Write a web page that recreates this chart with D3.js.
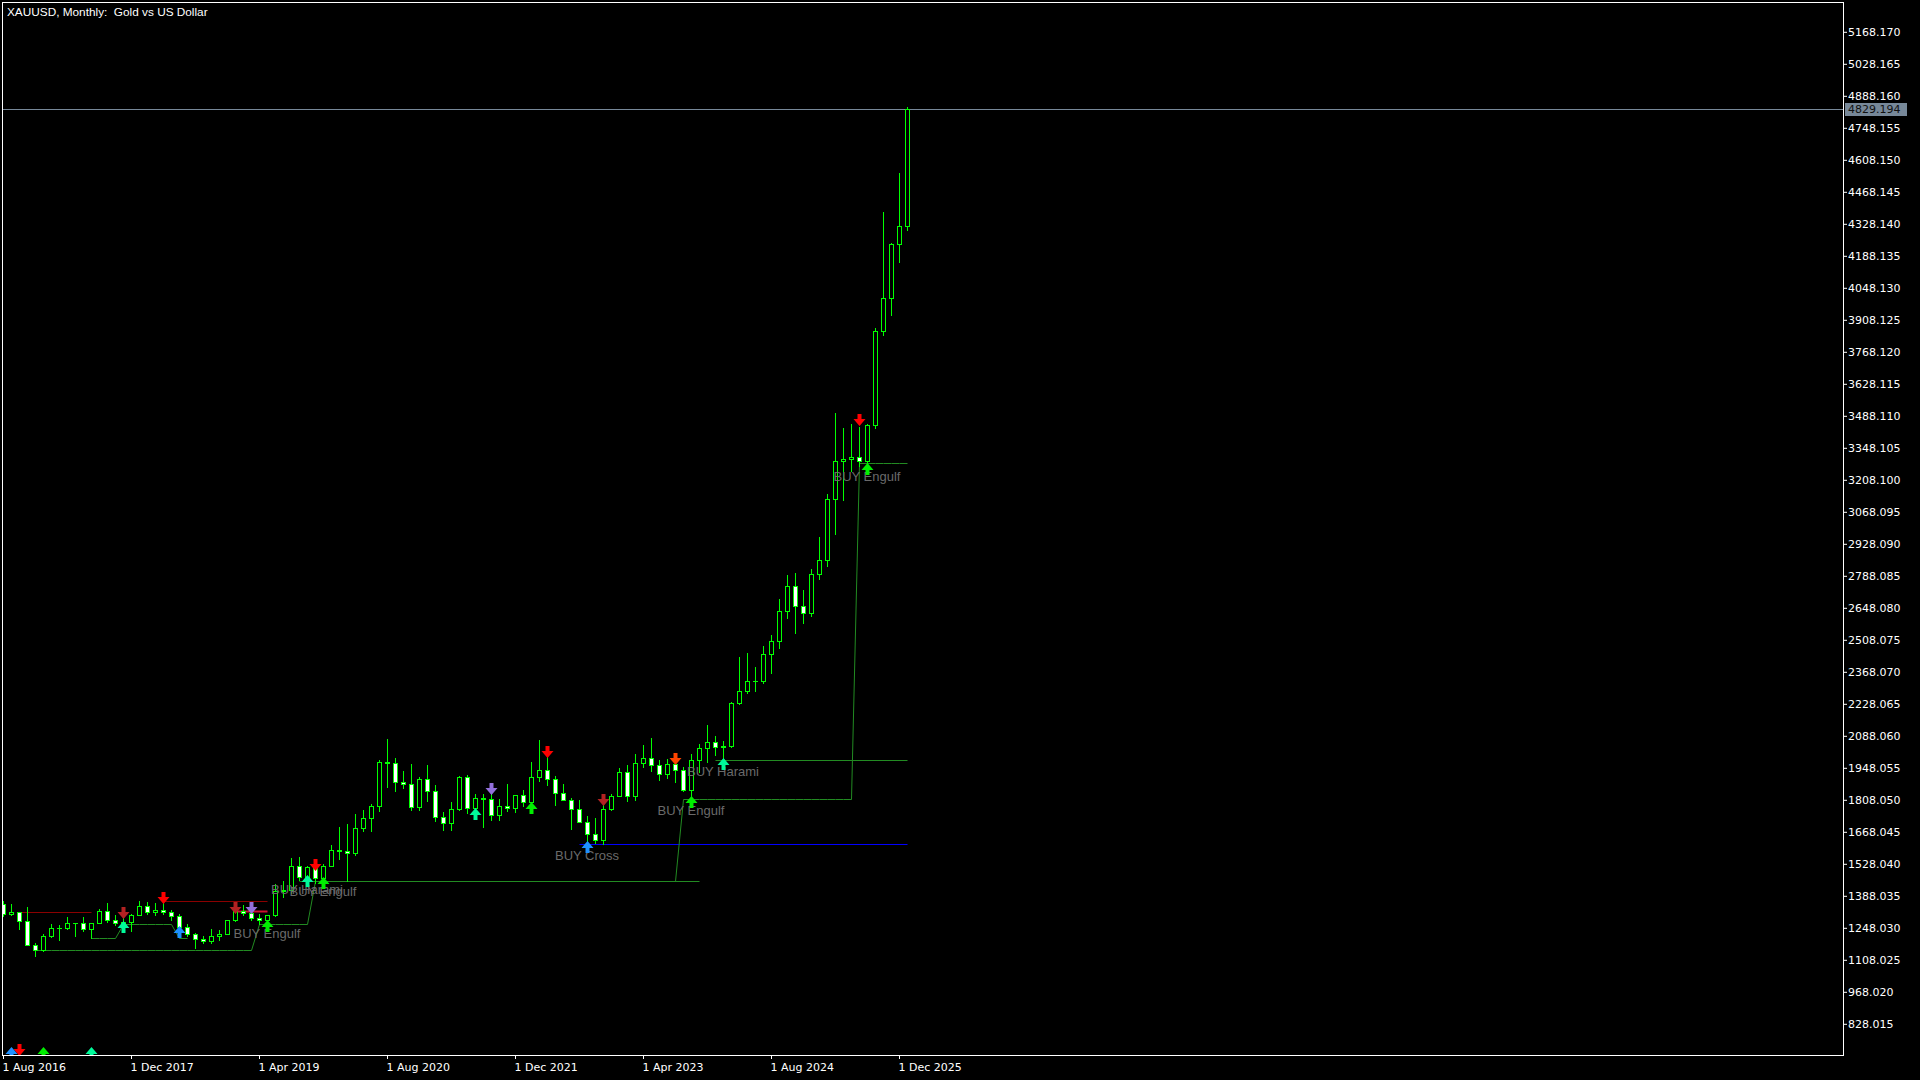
<!DOCTYPE html>
<html>
<head>
<meta charset="utf-8">
<script src="https://cdn.jsdelivr.net/npm/d3@7"></script>
<style>
  html, body { margin: 0; padding: 0; background: #000; }
  svg { display: block; }
  .axis text { font-family: "DejaVu Sans", sans-serif; font-size: 11px; fill: #fff; }
  .axis line { stroke: #fff; }
</style>
</head>
<body>
<div id="chart"></div>
<script>
{ // start block scope

  // monthly candles: [month, open, high, low, close]
  const candles = [
    ["2016-08", 1350.6, 1367.3, 1301.7, 1308.4], ["2016-09", 1308.4, 1352.8, 1302.8, 1315.8],
    ["2016-10", 1315.8, 1317.0, 1241.3, 1277.3], ["2016-11", 1277.3, 1337.4, 1171.3, 1173.4],
    ["2016-12", 1173.4, 1180.2, 1122.9, 1150.0], ["2017-01", 1150.0, 1220.0, 1146.0, 1210.0],
    ["2017-02", 1210.0, 1264.0, 1208.0, 1248.0], ["2017-03", 1248.0, 1261.0, 1194.0, 1249.0],
    ["2017-04", 1249.0, 1295.0, 1242.0, 1268.0], ["2017-05", 1268.0, 1270.0, 1214.0, 1268.5],
    ["2017-06", 1268.5, 1296.0, 1236.0, 1241.0], ["2017-07", 1241.0, 1270.0, 1205.0, 1268.0],
    ["2017-08", 1268.0, 1331.0, 1267.0, 1321.0], ["2017-09", 1321.0, 1357.0, 1275.0, 1280.0],
    ["2017-10", 1280.0, 1306.0, 1260.0, 1271.0], ["2017-11", 1271.0, 1299.0, 1264.0, 1275.0],
    ["2017-12", 1275.0, 1309.0, 1236.0, 1302.0], ["2018-01", 1302.0, 1366.0, 1302.0, 1345.0],
    ["2018-02", 1345.0, 1361.0, 1307.0, 1318.0], ["2018-03", 1318.0, 1356.0, 1303.0, 1325.0],
    ["2018-04", 1325.0, 1366.0, 1310.0, 1315.0], ["2018-05", 1315.0, 1326.0, 1282.0, 1298.0],
    ["2018-06", 1298.0, 1309.0, 1246.0, 1253.0], ["2018-07", 1253.0, 1266.0, 1211.0, 1223.0],
    ["2018-08", 1223.0, 1224.0, 1160.0, 1201.0], ["2018-09", 1201.0, 1214.0, 1180.0, 1192.0],
    ["2018-10", 1192.0, 1243.0, 1183.0, 1214.0], ["2018-11", 1214.0, 1237.0, 1196.0, 1222.0],
    ["2018-12", 1222.0, 1284.0, 1221.0, 1282.0], ["2019-01", 1282.0, 1326.0, 1276.0, 1321.0],
    ["2019-02", 1321.0, 1347.0, 1302.0, 1313.0], ["2019-03", 1313.0, 1324.0, 1281.0, 1292.0],
    ["2019-04", 1292.0, 1310.0, 1266.0, 1284.0], ["2019-05", 1284.0, 1306.0, 1266.0, 1305.0],
    ["2019-06", 1305.0, 1439.0, 1301.0, 1409.0], ["2019-07", 1409.0, 1453.0, 1382.0, 1413.0],
    ["2019-08", 1413.0, 1555.0, 1400.0, 1520.0], ["2019-09", 1520.0, 1557.0, 1459.0, 1472.0],
    ["2019-10", 1472.0, 1518.0, 1459.0, 1513.0], ["2019-11", 1513.0, 1516.0, 1445.0, 1464.0],
    ["2019-12", 1464.0, 1525.0, 1454.0, 1517.0], ["2020-01", 1517.0, 1611.0, 1517.0, 1589.0],
    ["2020-02", 1589.0, 1689.0, 1548.0, 1585.0], ["2020-03", 1585.0, 1704.0, 1451.0, 1577.0],
    ["2020-04", 1577.0, 1747.0, 1567.0, 1686.0], ["2020-05", 1686.0, 1765.0, 1670.0, 1730.0],
    ["2020-06", 1730.0, 1789.0, 1671.0, 1781.0], ["2020-07", 1781.0, 1984.0, 1757.0, 1975.0],
    ["2020-08", 1975.0, 2075.0, 1863.0, 1967.0], ["2020-09", 1967.0, 1992.0, 1848.0, 1886.0],
    ["2020-10", 1886.0, 1933.0, 1859.0, 1879.0], ["2020-11", 1879.0, 1965.0, 1764.0, 1776.0],
    ["2020-12", 1776.0, 1907.0, 1764.0, 1898.0], ["2021-01", 1898.0, 1959.0, 1802.0, 1847.0],
    ["2021-02", 1847.0, 1872.0, 1717.0, 1733.0], ["2021-03", 1733.0, 1755.0, 1676.0, 1707.0],
    ["2021-04", 1707.0, 1797.0, 1677.0, 1769.0], ["2021-05", 1769.0, 1912.0, 1765.0, 1906.0],
    ["2021-06", 1906.0, 1916.0, 1750.0, 1770.0], ["2021-07", 1770.0, 1832.0, 1751.0, 1814.0],
    ["2021-08", 1814.0, 1834.0, 1687.0, 1813.0], ["2021-09", 1813.0, 1834.0, 1721.0, 1743.0],
    ["2021-10", 1743.0, 1813.0, 1721.0, 1783.0], ["2021-11", 1783.0, 1877.0, 1758.0, 1774.0],
    ["2021-12", 1774.0, 1831.0, 1753.0, 1829.0], ["2022-01", 1829.0, 1853.0, 1780.0, 1797.0],
    ["2022-02", 1797.0, 1974.0, 1780.0, 1909.0], ["2022-03", 1909.0, 2070.0, 1890.0, 1937.0],
    ["2022-04", 1937.0, 1998.0, 1872.0, 1897.0], ["2022-05", 1897.0, 1910.0, 1787.0, 1837.0],
    ["2022-06", 1837.0, 1879.0, 1805.0, 1807.0], ["2022-07", 1807.0, 1814.0, 1681.0, 1766.0],
    ["2022-08", 1766.0, 1808.0, 1709.0, 1711.0], ["2022-09", 1711.0, 1735.0, 1615.0, 1660.0],
    ["2022-10", 1660.0, 1730.0, 1617.0, 1633.0], ["2022-11", 1633.0, 1786.0, 1616.0, 1768.0],
    ["2022-12", 1768.0, 1833.0, 1765.0, 1824.0], ["2023-01", 1824.0, 1949.0, 1823.0, 1928.0],
    ["2023-02", 1928.0, 1959.0, 1804.0, 1826.0], ["2023-03", 1826.0, 2009.0, 1809.0, 1969.0],
    ["2023-04", 1969.0, 2048.0, 1950.0, 1990.0], ["2023-05", 1990.0, 2079.0, 1932.0, 1962.0],
    ["2023-06", 1962.0, 1983.0, 1893.0, 1919.0], ["2023-07", 1919.0, 1987.0, 1902.0, 1965.0],
    ["2023-08", 1965.0, 1987.0, 1884.0, 1940.0], ["2023-09", 1940.0, 1953.0, 1848.0, 1849.0],
    ["2023-10", 1849.0, 2009.0, 1810.0, 1983.0], ["2023-11", 1983.0, 2052.0, 1931.0, 2036.0],
    ["2023-12", 2036.0, 2135.0, 1973.0, 2063.0], ["2024-01", 2063.0, 2088.0, 2002.0, 2039.0],
    ["2024-02", 2039.0, 2065.0, 1984.0, 2044.0], ["2024-03", 2044.0, 2236.0, 2039.0, 2230.0],
    ["2024-04", 2230.0, 2431.0, 2228.0, 2286.0], ["2024-05", 2286.0, 2450.0, 2277.0, 2327.0],
    ["2024-06", 2327.0, 2388.0, 2286.0, 2326.0], ["2024-07", 2326.0, 2483.0, 2319.0, 2447.0],
    ["2024-08", 2447.0, 2531.0, 2364.0, 2503.0], ["2024-09", 2503.0, 2685.0, 2472.0, 2634.0],
    ["2024-10", 2634.0, 2790.0, 2604.0, 2744.0], ["2024-11", 2744.0, 2801.0, 2537.0, 2654.0],
    ["2024-12", 2654.0, 2726.0, 2583.0, 2624.0], ["2025-01", 2624.0, 2817.0, 2614.0, 2798.0],
    ["2025-02", 2798.0, 2956.0, 2772.0, 2858.0], ["2025-03", 2858.0, 3148.0, 2833.0, 3124.0],
    ["2025-04", 3124.0, 3500.0, 2970.0, 3289.0], ["2025-05", 3289.0, 3435.0, 3121.0, 3300.0],
    ["2025-06", 3300.0, 3451.0, 3248.0, 3307.0], ["2025-07", 3307.0, 3439.0, 3268.0, 3290.0],
    ["2025-08", 3290.0, 3453.0, 3281.0, 3448.0], ["2025-09", 3448.0, 3872.0, 3435.0, 3858.0],
    ["2025-10", 3858.0, 4381.0, 3840.0, 4003.0], ["2025-11", 4003.0, 4245.0, 3930.0, 4239.0],
    ["2025-12", 4239.0, 4550.0, 4160.0, 4318.0], ["2026-01", 4318.0, 4840.0, 4300.0, 4829.194]
  ];
  const lastPrice = 4829.194;

  // price scale labels
  const priceTicks = [828.015, 968.020, 1108.025, 1248.030, 1388.035, 1528.040, 1668.045, 1808.050,
    1948.055, 2088.060, 2228.065, 2368.070, 2508.075, 2648.080, 2788.085, 2928.090, 3068.095,
    3208.100, 3348.105, 3488.110, 3628.115, 3768.120, 3908.125, 4048.130, 4188.135, 4328.140,
    4468.145, 4608.150, 4748.155, 4888.160, 5028.165, 5168.170];

  // time scale labels
  const timeTicks = ["2016-08", "2017-12", "2019-04", "2020-08", "2021-12", "2023-04", "2024-08", "2025-12"];
  const timeTickLabels = ["1 Aug 2016", "1 Dec 2017", "1 Apr 2019", "1 Aug 2020",
    "1 Dec 2021", "1 Apr 2023", "1 Aug 2024", "1 Dec 2025"];

  // signals: [bar, pattern, price]
  const buySignals = [
    [1, "Cross", 700], [5, "Engulf", 700], [11, "Harami", 700],
    [15, "Harami", 1251.5], [22, "Cross", 1231], [33, "Engulf", 1256.8], [38, "Harami", 1453.7],
    [40, "Engulf", 1442.7], [59, "Harami", 1747.3], [66, "Engulf", 1770.9], [73, "Cross", 1602.4],
    [86, "Engulf", 1797.6], [90, "Harami", 1962.5], [108, "Engulf", 3255.4]
  ];
  const sellSignals = [
    [2, "Engulf", 713],
    [15, "Harami", 1311.5], [20, "Engulf", 1377], [29, "Harami", 1336.8], [31, "Cross", 1336.8],
    [39, "Engulf", 1522.8], [61, "Cross", 1854.4], [68, "Engulf", 2016.3], [75, "Harami", 1805.9],
    [84, "Star", 1985.7], [107, "Engulf", 3469.8]
  ];

  // text labels: [bar, text, price]
  const buyLabels = [
    [33, "BUY Engulf", 1225.3], [38, "BUY Harami", 1417.8], [40, "BUY Engulf", 1406],
    [73, "BUY Cross", 1566.6], [86, "BUY Engulf", 1763.4], [90, "BUY Harami", 1934],
    [108, "BUY Engulf", 3221.7]
  ];

  // horizontal levels: [fromBar, toBar, price, kind]
  const levels = [
    [2, 11, 1317, "sell"], [20, 33, 1364, "sell"], [29, 33, 1323, "sellCross"],
    [37, 87, 1452, "buy"], [72, 113, 1613.5, "cross"], [89, 113, 1981, "buy"]
  ];

  // trailing stop steps: [fromBar, toBar, price]
  const trailMain = [[4, 31, 1150], [32, 38, 1266], [39, 84, 1452], [85, 106, 1810], [107, 113, 3282]];
  const trailShort = [[11, 14, 1205], [15, 21, 1263], [22, 23, 1205]];

  // ---- styles ----
  const color = {
    bg: '#000000',
    fg: '#ffffff',
    candle: '#00ff00',
    bear: '#ffffff',
    label: '#6a6a6a',
    lastLine: '#778899',
    trail: '#228b22'
  };
  const buyColor = { Engulf: '#00ee00', Harami: '#00fa9a', Cross: '#1e90ff' };
  const sellColor = { Engulf: '#ff0000', Harami: '#b22222', Cross: '#9370db', Star: '#ff4500' };
  const levelStyle = {
    sell: ['#8b0000', 1], sellCross: ['#cc1133', 2], buy: ['#228b22', 1], cross: ['#0000ff', 1]
  };

  const W = 1920, H = 1080;
  const plot = { left: 2.5, top: 2.5, right: 1843.5, bottom: 1055.5 };

  const svg = d3.select('#chart').append('svg')
    .attr('width', W).attr('height', H)
    .style('background', color.bg);

  svg.append('defs').append('clipPath').attr('id', 'plot-clip')
    .append('rect')
    .attr('x', plot.left + 0.5).attr('y', plot.top + 0.5)
    .attr('width', plot.right - plot.left - 1).attr('height', plot.bottom - plot.top - 1);

  // scales
  const months = candles.map(d => d[0]);
  const x = d3.scaleLinear().domain([0, 113]).range([3, 907]);
  const y = d3.scaleLinear().domain([828.015, 5168.17]).range([1023.8, 31.8]);
  const px = i => Math.round(x(i)) + 0.5;
  const py = p => Math.round(y(p)) + 0.5;

  const g = svg.append('g').attr('clip-path', 'url(#plot-clip)');

  // current price line
  g.append('line')
    .attr('x1', plot.left).attr('x2', plot.right)
    .attr('y1', py(lastPrice)).attr('y2', py(lastPrice))
    .attr('stroke', color.lastLine);

  // levels
  g.selectAll('.level').data(levels).enter().append('line')
    .attr('class', 'level')
    .attr('x1', d => px(d[0])).attr('x2', d => px(d[1]))
    .attr('y1', d => py(d[2])).attr('y2', d => py(d[2]))
    .attr('stroke', d => levelStyle[d[3]][0])
    .attr('stroke-width', d => levelStyle[d[3]][1]);

  // trailing lines
  function expand(steps) {
    const pts = [];
    steps.forEach(s => { for (let i = s[0]; i <= s[1]; i++) pts.push([i, s[2]]); });
    return pts;
  }
  const trailLine = d3.line().x(d => px(d[0])).y(d => py(d[1]));
  [trailMain, trailShort].forEach(steps => {
    g.append('path')
      .attr('d', trailLine(expand(steps)))
      .attr('fill', 'none')
      .attr('stroke', color.trail);
  });

  // candles
  const cg = g.append('g');
  candles.forEach((d, i) => {
    const [, o, h, l, c] = d;
    const cx = px(i);
    cg.append('line')
      .attr('x1', cx).attr('x2', cx)
      .attr('y1', Math.round(y(h))).attr('y2', Math.round(y(l)) + 1)
      .attr('stroke', color.candle);
    const top = Math.round(y(Math.max(o, c)));
    const bot = Math.round(y(Math.min(o, c)));
    if (bot - top < 1) {
      cg.append('line')
        .attr('x1', cx - 2.5).attr('x2', cx + 2.5)
        .attr('y1', top + 0.5).attr('y2', top + 0.5)
        .attr('stroke', color.candle);
    } else {
      cg.append('rect')
        .attr('x', cx - 2).attr('width', 4)
        .attr('y', top + 0.5).attr('height', bot - top)
        .attr('fill', c >= o ? color.bg : color.bear)
        .attr('stroke', color.candle);
    }
  });

  // text labels
  g.selectAll('.sig-label').data(buyLabels).enter().append('text')
    .attr('class', 'sig-label')
    .attr('x', d => x(d[0]))
    .attr('y', d => y(d[2]))
    .attr('dy', '0.36em')
    .attr('text-anchor', 'middle')
    .attr('fill', color.label)
    .style('font-family', '"Liberation Sans", Arial, sans-serif')
    .style('font-size', '13px')
    .text(d => d[1]);

  // arrows
  const arrowPath = 'M-2,-6H2V-1H6L0,6L-6,-1H-2Z';
  g.selectAll('.sell').data(sellSignals).enter().append('path')
    .attr('class', 'sell')
    .attr('d', arrowPath)
    .attr('transform', d => `translate(${Math.round(x(d[0])) + 0.5},${Math.round(y(d[2]))})`)
    .attr('fill', d => sellColor[d[1]]);
  g.selectAll('.buy').data(buySignals).enter().append('path')
    .attr('class', 'buy')
    .attr('d', arrowPath)
    .attr('transform', d => `translate(${Math.round(x(d[0])) + 0.5},${Math.round(y(d[2]))}) scale(1,-1)`)
    .attr('fill', d => buyColor[d[1]]);

  // frame
  svg.append('rect')
    .attr('x', plot.left).attr('y', plot.top)
    .attr('width', plot.right - plot.left).attr('height', plot.bottom - plot.top)
    .attr('fill', 'none').attr('stroke', color.fg);

  // y axis
  const yAxis = d3.axisRight(y)
    .tickValues(priceTicks)
    .tickFormat(d3.format('.3f'))
    .tickSize(4)
    .tickPadding(1);
  svg.append('g')
    .attr('class', 'axis')
    .attr('transform', `translate(${plot.right - 0.5},0)`)
    .call(yAxis)
    .call(a => a.select('.domain').remove());

  // x axis
  const tickIdx = timeTicks.map(m => months.indexOf(m));
  const xAxis = d3.axisBottom(x)
    .tickValues(tickIdx)
    .tickFormat((d, k) => timeTickLabels[k])
    .tickSize(4)
    .tickPadding(4);
  svg.append('g')
    .attr('class', 'axis')
    .attr('transform', `translate(0,${plot.bottom - 0.5})`)
    .call(xAxis)
    .call(a => a.select('.domain').remove())
    .call(a => a.selectAll('text').attr('text-anchor', 'start').attr('dx', '-1'));

  // current price tag
  const ly = Math.round(y(lastPrice));
  svg.append('rect')
    .attr('x', 1845).attr('y', ly - 6)
    .attr('width', 62).attr('height', 13)
    .attr('fill', color.lastLine);
  svg.append('text')
    .attr('x', 1848).attr('y', ly + 0.5)
    .attr('dy', '0.36em')
    .attr('fill', '#111')
    .style('font-family', '"DejaVu Sans", sans-serif')
    .style('font-size', '11px')
    .text(d3.format('.3f')(lastPrice));

  // title
  svg.append('text')
    .attr('x', 7).attr('y', 16)
    .attr('fill', color.fg)
    .style('font-family', '"Liberation Sans", Arial, sans-serif')
    .style('font-size', '11.8px')
    .style('white-space', 'pre')
    .text('XAUUSD, Monthly:  Gold vs US Dollar');

} // end block scope
</script>
</body>
</html>
